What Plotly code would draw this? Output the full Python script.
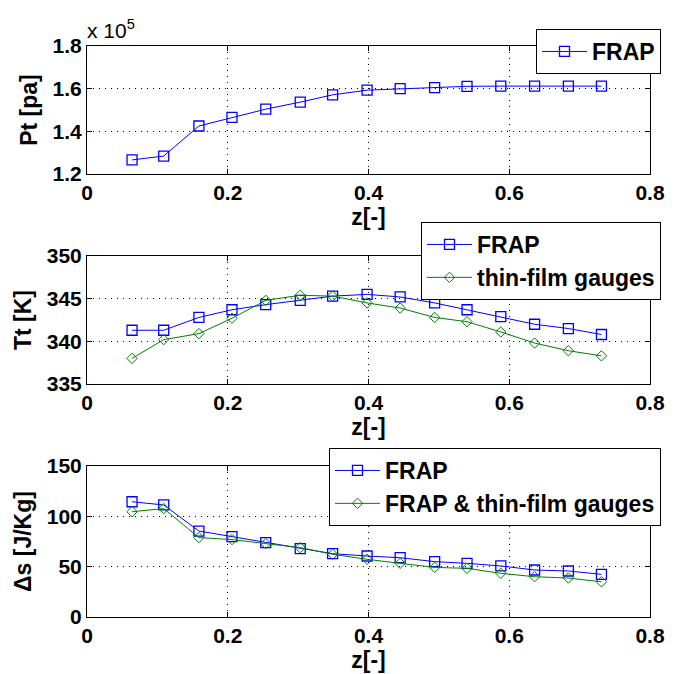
import plotly.graph_objects as go

z = [0.064, 0.109, 0.159, 0.206, 0.254, 0.303, 0.349, 0.398, 0.445, 0.494,
     0.540, 0.588, 0.636, 0.684, 0.731]

pt_frap = [126600, 128400, 142500, 146500, 150400, 153700, 157100, 159300,
           160000, 160500, 161100, 161200, 161200, 161200, 161200]

tt_frap = [341.3, 341.3, 342.8, 343.7, 344.3, 344.8, 345.3, 345.5, 345.2,
           344.5, 343.7, 342.9, 342.0, 341.5, 340.8]
tt_tfg = [338.0, 340.2, 340.9, 342.7, 344.8, 345.4, 345.3, 344.5, 343.9,
          342.8, 342.3, 341.1, 339.8, 338.9, 338.3]

ds_frap = [114.5, 111.3, 85.4, 79.8, 73.8, 67.9, 62.9, 60.6, 58.9, 55.0,
           53.3, 50.7, 46.7, 45.7, 42.4]
ds_both = [104.6, 107.7, 78.9, 76.9, 72.9, 68.9, 62.3, 57.3, 53.3, 49.3,
           48.3, 43.4, 40.0, 38.7, 35.0]

pt_ticks = [120000, 140000, 160000, 180000]
pt_ticktext = ["1.2", "1.4", "1.6", "1.8"]
tt_ticks = [335, 340, 345, 350]
ds_ticks = [0, 50, 100, 150]
z_ticks = [0, 0.2, 0.4, 0.6, 0.8]

W, H = 679, 674
BLUE = "rgb(0,0,255)"
GREEN = "rgb(0,128,0)"
FONT = "Liberation Sans"

def py(px):
    return 1 - px / H

xdom = [87 / W, 650 / W]
ydoms = [[py(174), py(46)], [py(384), py(256)], [py(617), py(466)]]

fig = go.Figure()

def frap_trace(y, xa, ya, leg):
    return go.Scatter(x=z, y=y, xaxis=xa, yaxis=ya, name="FRAP", legend=leg,
                      mode="lines+markers", showlegend=True,
                      line=dict(color=BLUE, width=1),
                      marker=dict(symbol="square-open", size=10,
                                  color=BLUE, line=dict(color=BLUE, width=1.3)))

def green_trace(y, xa, ya, leg, name):
    return go.Scatter(x=z, y=y, xaxis=xa, yaxis=ya, name=name, legend=leg,
                      mode="lines+markers", showlegend=True,
                      line=dict(color=GREEN, width=1),
                      marker=dict(symbol="diamond-open", size=8,
                                  color=GREEN, line=dict(color=GREEN, width=1)))

fig.add_trace(frap_trace(pt_frap, "x", "y", "legend"))
fig.add_trace(frap_trace(tt_frap, "x2", "y2", "legend2"))
fig.add_trace(green_trace(tt_tfg, "x2", "y2", "legend2", "thin-film gauges"))
fig.add_trace(frap_trace(ds_frap, "x3", "y3", "legend3"))
fig.add_trace(green_trace(ds_both, "x3", "y3", "legend3", "FRAP &amp; thin-film gauges"))

tickfont = dict(family=FONT, size=21, color="black", weight="bold")
titlefont = dict(family=FONT, size=23, color="black", weight="bold")

GRID = dict(showgrid=True, gridcolor="black", griddash="1px,5px", gridwidth=1)

def xaxis(dom_anchor):
    return dict(domain=xdom, anchor=dom_anchor, range=[0, 0.8],
                tickvals=z_ticks, ticktext=["0", "0.2", "0.4", "0.6", "0.8"],
                ticks="inside", ticklen=5, tickcolor="black",
                showline=True, linecolor="black", linewidth=1, mirror="ticks",
                zeroline=False, tickfont=tickfont, automargin=False,
                title=dict(text="z[-]", font=titlefont, standoff=0), **GRID)

def yaxis(dom, anchor, rng, tv, tt, title):
    return dict(domain=dom, anchor=anchor, range=rng,
                tickvals=tv, ticktext=tt,
                ticks="inside", ticklen=5, tickcolor="black",
                showline=True, linecolor="black", linewidth=1, mirror="ticks",
                zeroline=False, tickfont=tickfont, automargin=False,
                title=dict(text=title, font=titlefont, standoff=8), **GRID)

legbase = dict(xanchor="right", yanchor="top", x=661 / W,
               bgcolor="white", bordercolor="black", borderwidth=1,
               font=dict(family=FONT, size=23, color="black", weight="bold"),
               itemwidth=45, tracegroupgap=0)

fig.update_layout(
    width=W, height=H,
    margin=dict(l=0, r=0, t=0, b=0, autoexpand=False),
    paper_bgcolor="white", plot_bgcolor="white",
    showlegend=True,
    xaxis=xaxis("y"),
    yaxis=yaxis(ydoms[0], "x", [120000, 180000], pt_ticks, pt_ticktext, "Pt [pa]"),
    xaxis2=xaxis("y2"),
    yaxis2=yaxis(ydoms[1], "x2", [335, 350], tt_ticks, [str(v) for v in tt_ticks], "Tt [K]"),
    xaxis3=xaxis("y3"),
    yaxis3=yaxis(ydoms[2], "x3", [0, 150], ds_ticks, [str(v) for v in ds_ticks], "Δs [J/Kg]"),
    legend=dict(legbase, y=py(29)),
    legend2=dict(legbase, y=py(222)),
    legend3=dict(legbase, y=py(448)),
    annotations=[dict(text="x 10<sup>5</sup>", xref="paper", yref="paper",
                      x=85 / W, y=py(44), xanchor="left", yanchor="bottom",
                      showarrow=False,
                      font=dict(family=FONT, size=21, color="black"))],
)

fig.write_html("out.html")
